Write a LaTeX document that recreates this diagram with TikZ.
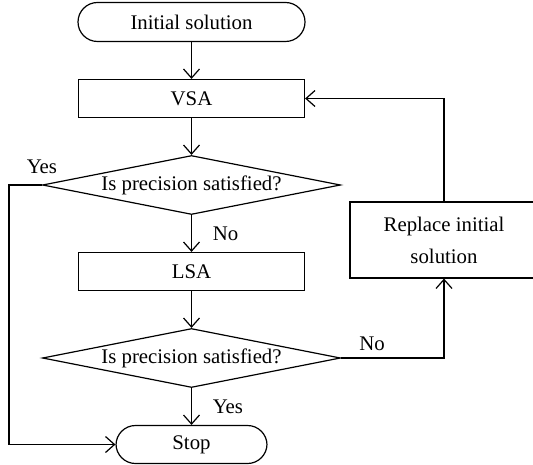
\documentclass[tikz,border=0pt]{standalone}
\usepackage{fontspec}
\setmainfont{Liberation Serif}
\usetikzlibrary{positioning,shapes.geometric,arrows.meta}

\begin{document}
\begin{tikzpicture}[x=0.5pt, y=-0.5pt, line width=0.6pt,
                    font=\fontsize{10.4}{16}\selectfont]
	\tikzset{
	  TermStyle/.style = { draw, rectangle, rounded corners = 9.75pt,
	                       minimum width = 113.5pt, minimum height = 19.5pt },
	  BoxStyle/.style = { draw, rectangle, minimum width = 113pt,
	                      minimum height = 19pt },
	  TestStyle/.style = { draw, diamond, aspect = 5, inner sep = 0pt,
	                       minimum width = 149pt, minimum height = 29.5pt },
	  EdgeStyle/.style = { ->, >={Straight Barb[length=4.5pt,width=8pt]} } }
	\useasboundingbox (0,0) rectangle (533,464);
	\node[TermStyle] (init) at (191.5,22) {Initial solution};
	\node[BoxStyle, below = 18.4pt of init] (vsa) {VSA};
	\node[TestStyle, below = 18.4pt of vsa] (test1) {Is precision satisfied?};
	\node[BoxStyle, below = 18.4pt of test1] (lsa) {LSA};
	\node[TestStyle, below = 18.4pt of lsa] (test2) {Is precision satisfied?};
	\node[TermStyle, minimum width = 75.5pt, minimum height = 19pt,
	      below = 18.4pt of test2] (stop) {Stop};
	\node[BoxStyle, minimum width = 94pt, minimum height = 38pt,
	      align = center] (replace) at (444,240) {Replace initial\\solution};
	\draw[EdgeStyle] (init) -- (vsa);
	\draw[EdgeStyle] (vsa) -- (test1);
	\draw[EdgeStyle] (test1) -- node[right = 7pt] {No} (lsa);
	\draw[EdgeStyle] (lsa) -- (test2);
	\draw[EdgeStyle] (test2) -- node[right = 7pt] {Yes} (stop);
	\draw[EdgeStyle] (test1.west) -- node[above = 2pt, pos = 0] {Yes} ++(-33,0) |- (stop);
	\draw[EdgeStyle] (test2.east) -| node[above, pos = 0.15] {No} (replace);
	\draw[EdgeStyle] (replace) |- (vsa);
\end{tikzpicture}
\end{document}
